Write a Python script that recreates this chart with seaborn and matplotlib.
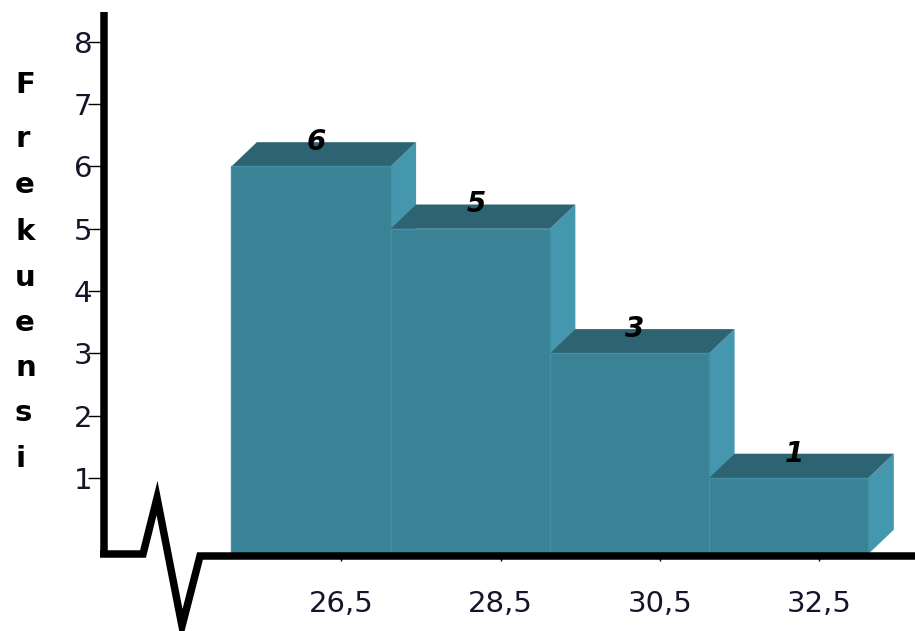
import matplotlib
matplotlib.use("Agg")
import matplotlib.pyplot as plt
import pandas as pd
import seaborn as sns
from matplotlib.patches import Polygon

# Frequency table of class marks
categories = ["26,5", "28,5", "30,5", "32,5"]
frequencies = [6, 5, 3, 1]
y_ticks = [1, 2, 3, 4, 5, 6, 7, 8]
axis_title = "Frekuensi"

FRONT = "#3a8296"
TOP = "#2e6472"
SIDE = "#4597ae"
TEXT = "#15152a"

sns.set_style("white")
plt.rcParams["font.family"] = ["DejaVu Sans"]

W, H = 915, 631
fig = plt.figure(figsize=(W / 100, H / 100), dpi=100)
ax = fig.add_axes([104 / W, (H - 554) / H, 811 / W, 542 / H])

df = pd.DataFrame({"nilai": categories, "frekuensi": frequencies})
sns.barplot(data=df, x="nilai", y="frekuensi", order=categories, width=1.0,
            color=FRONT, saturation=1, edgecolor="#4090a6", linewidth=1,
            ax=ax)

y_floor = -0.22          # level of the drawn baseline
dx, dy = 0.16, 0.39      # depth offset of the 3D extrusion

for i, (patch, v) in enumerate(zip(ax.patches, frequencies)):
    x = patch.get_x()
    w = patch.get_width()
    patch.set_y(y_floor)
    patch.set_height(v - y_floor)
    patch.set_zorder(3 + 2 * i)
    side = Polygon([(x + w, y_floor), (x + w + dx, y_floor + dy),
                    (x + w + dx, v + dy), (x + w, v)],
                   closed=True, facecolor=SIDE, edgecolor="none",
                   zorder=2 + 2 * i)
    top = Polygon([(x, v), (x + dx, v + dy), (x + w + dx, v + dy), (x + w, v)],
                  closed=True, facecolor=TOP, edgecolor="none",
                  zorder=2 + 2 * i)
    ax.add_patch(side)
    ax.add_patch(top)
    ax.text(x + w / 2 + 0.035, v + 0.39, str(v), ha="center", va="center",
            fontsize=20, fontweight="bold", style="italic", color="black",
            zorder=20)

ax.set_xlim(-1.3, 3.793)
ax.set_ylim(y_floor, y_floor + 542 / 62.3)
ax.set_yticks(y_ticks)
ax.set_yticklabels([str(t) for t in y_ticks])
ax.set_xticks([i + 0.19 for i in range(len(categories))])
ax.set_xticklabels(categories)
ax.set_xlabel("")
ax.set_ylabel("")

for s in ("top", "right", "bottom"):
    ax.spines[s].set_visible(False)
ax.spines["left"].set_linewidth(5.4)
ax.spines["left"].set_color("black")
ax.spines["left"].set_capstyle("butt")

ax.tick_params(axis="y", left=True, direction="out", length=11.5, width=1.0,
               pad=-3, labelsize=21, colors="black", labelcolor=TEXT)
ax.tick_params(axis="x", bottom=True, direction="out", length=5, width=1.0,
               pad=21, labelsize=21, colors="black", labelcolor=TEXT)

# Baseline with a broken-axis zigzag near the origin
bx = [-0.0049, 0.0481, 0.0654, 0.0962, 0.1184, 1.0]
by = [0.0, 0.0, 0.1033, -0.1328, -0.0037, -0.0037]
ax.plot(bx, by, transform=ax.transAxes, clip_on=False, color="black",
        lw=5.4, solid_joinstyle="miter", solid_capstyle="butt", zorder=30)

# Vertical axis title, one letter per line (baselines in pixels)
baselines = [93, 147, 193, 240, 286, 331, 376, 421, 467]
for ch, b in zip(axis_title, baselines):
    fig.text(15 / W, 1 - b / H, ch, ha="left", va="baseline",
             fontsize=21, fontweight="bold", color="black")

fig.savefig("out.png", dpi=100, facecolor="white")
